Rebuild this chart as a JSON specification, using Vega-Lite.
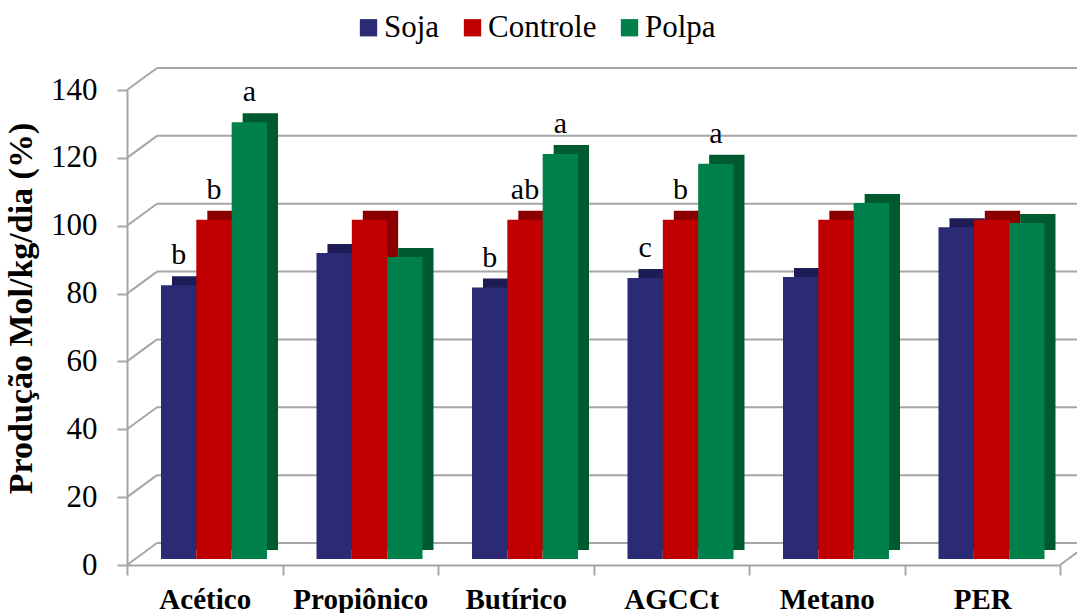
{
  "$schema": "https://vega.github.io/schema/vega-lite/v6.json",
  "width": 933,
  "height": 475,
  "autosize": "none",
  "padding": {"left": 127, "top": 90, "right": 17, "bottom": 48},
  "background": "white",
  "config": {
    "view": {"stroke": null},
    "font": "Times New Roman, Liberation Serif, serif",
    "text": {"font": "Times New Roman, Liberation Serif, serif"},
    "legend": {"labelFont": "Times New Roman, Liberation Serif, serif"},
    "axis": {"labelFont": "Times New Roman, Liberation Serif, serif", "titleFont": "Times New Roman, Liberation Serif, serif"}
  },
  "datasets": {
    "bars": [
      {"cat": "Acético", "serie": "Soja", "valor": 80.7, "letra": "b"},
      {"cat": "Acético", "serie": "Controle", "valor": 100, "letra": "b"},
      {"cat": "Acético", "serie": "Polpa", "valor": 128.7, "letra": "a"},
      {"cat": "Propiônico", "serie": "Soja", "valor": 90.2, "letra": ""},
      {"cat": "Propiônico", "serie": "Controle", "valor": 100, "letra": ""},
      {"cat": "Propiônico", "serie": "Polpa", "valor": 89.0, "letra": ""},
      {"cat": "Butírico", "serie": "Soja", "valor": 80.0, "letra": "b"},
      {"cat": "Butírico", "serie": "Controle", "valor": 100, "letra": "ab"},
      {"cat": "Butírico", "serie": "Polpa", "valor": 119.4, "letra": "a"},
      {"cat": "AGCCt", "serie": "Soja", "valor": 82.8, "letra": "c"},
      {"cat": "AGCCt", "serie": "Controle", "valor": 100, "letra": "b"},
      {"cat": "AGCCt", "serie": "Polpa", "valor": 116.5, "letra": "a"},
      {"cat": "Metano", "serie": "Soja", "valor": 83.1, "letra": ""},
      {"cat": "Metano", "serie": "Controle", "valor": 100, "letra": ""},
      {"cat": "Metano", "serie": "Polpa", "valor": 104.9, "letra": ""},
      {"cat": "PER", "serie": "Soja", "valor": 97.8, "letra": ""},
      {"cat": "PER", "serie": "Controle", "valor": 100, "letra": ""},
      {"cat": "PER", "serie": "Polpa", "valor": 99.0, "letra": ""}
    ],
    "grade": [
      {"v": 0}, {"v": 20}, {"v": 40}, {"v": 60},
      {"v": 80}, {"v": 100}, {"v": 120}, {"v": 140}
    ],
    "piso": [{"v": 0}]
  },
  "layer": [
    {
      "layer": [
        {
          "data": {"name": "grade"},
          "mark": {"type": "rule", "color": "#a6a6a6", "strokeWidth": 2,
                   "xOffset": 30, "x2Offset": 30, "yOffset": -22, "y2Offset": -22},
          "encoding": {
            "x": {"datum": 0, "type": "quantitative", "scale": {"domain": [0, 1], "nice": false, "zero": false}, "axis": null},
            "x2": {"datum": 1},
            "y": {"field": "v", "type": "quantitative", "scale": {"domain": [0, 140], "nice": false}},
            "y2": {"field": "v"}
          }
        },
        {
          "data": {"name": "grade"},
          "mark": {"type": "rule", "color": "#a6a6a6", "strokeWidth": 2,
                   "x2Offset": 30, "y2Offset": -22},
          "encoding": {
            "x": {"datum": 0, "type": "quantitative", "axis": null},
            "x2": {"datum": 0},
            "y": {"field": "v", "type": "quantitative"},
            "y2": {"field": "v"}
          }
        },
        {
          "data": {"name": "piso"},
          "mark": {"type": "rule", "color": "#a6a6a6", "strokeWidth": 2,
                   "x2Offset": 30, "y2Offset": -22},
          "encoding": {
            "x": {"datum": 1, "type": "quantitative", "axis": null},
            "x2": {"datum": 1},
            "y": {"field": "v", "type": "quantitative"},
            "y2": {"field": "v"}
          }
        }
      ]
    },
    {
      "data": {"name": "bars"},
      "encoding": {
        "x": {
          "field": "cat", "type": "nominal",
          "sort": ["Acético", "Propiônico", "Butírico", "AGCCt", "Metano", "PER"],
          "scale": {"paddingInner": 0, "paddingOuter": 0},
          "axis": {
            "title": null, "labelAngle": 0, "tickBand": "extent",
            "domainColor": "#a6a6a6", "domainWidth": 2,
            "tickColor": "#a6a6a6", "tickWidth": 2, "tickSize": 10,
            "labelFontWeight": "bold",
            "labelFontSize": 29, "labelColor": "black", "labelPadding": 10
          }
        },
        "y": {
          "field": "valor", "type": "quantitative",
          "scale": {"domain": [0, 140], "nice": false},
          "axis": {
            "title": "Produção Mol/kg/dia (%)",
            "values": [0, 20, 40, 60, 80, 100, 120, 140],
            "grid": false,
            "domainColor": "#a6a6a6", "domainWidth": 2,
            "tickColor": "#a6a6a6", "tickWidth": 2, "tickSize": 10,
            "labelFontSize": 31,
            "labelColor": "black", "labelPadding": 20,
            "titleFontWeight": "bold",
            "titleFontSize": 34, "titleColor": "black",
            "titleX": -106, "titleY": 218, "titleBaseline": "middle",
            "titleAlign": "center", "titleAngle": -90
          }
        }
      },
      "layer": [
        {
          "mark": {"type": "bar", "yOffset": -15, "y2Offset": -15},
          "encoding": {
            "xOffset": {
              "field": "serie", "type": "nominal",
              "sort": ["Soja", "Controle", "Polpa"],
              "scale": {"paddingInner": 0, "paddingOuter": 0.7, "align": 0.909}
            },
            "color": {
              "field": "serie", "type": "nominal",
              "scale": {"domain": ["Soja", "Controle", "Polpa"], "range": ["#1d1c55", "#8a0000", "#005a30"]},
              "legend": null
            }
          }
        },
        {
          "mark": {"type": "bar", "yOffset": -6, "y2Offset": -6},
          "encoding": {
            "xOffset": {
              "field": "serie", "type": "nominal",
              "sort": ["Soja", "Controle", "Polpa"],
              "scale": {"paddingInner": 0, "paddingOuter": 0.7, "align": 0.687}
            },
            "color": {
              "field": "serie", "type": "nominal",
              "scale": {"domain": ["Soja", "Controle", "Polpa"], "range": ["#2b2a74", "#c00000", "#00804a"]},
              "legend": {
                "title": null, "orient": "none", "direction": "horizontal",
                "legendX": 226, "legendY": -78,
                "symbolType": "square", "symbolSize": 300, "symbolStrokeWidth": 0,
                "labelFontSize": 31,
                "labelColor": "black", "labelOffset": 0, "columnPadding": 17,
                "padding": 0
              }
            }
          }
        },
        {
          "mark": {"type": "text", "yOffset": -27, "baseline": "alphabetic",
                   "align": "center", "fontSize": 30, "color": "black"},
          "encoding": {
            "xOffset": {
              "field": "serie", "type": "nominal",
              "sort": ["Soja", "Controle", "Polpa"],
              "scale": {"type": "band", "paddingInner": 0, "paddingOuter": 0.7, "align": 0.687}
            },
            "text": {"field": "letra"}
          }
        }
      ],
      "resolve": {"scale": {"color": "independent", "xOffset": "independent"}}
    }
  ],
  "resolve": {"scale": {"x": "independent"}}
}
